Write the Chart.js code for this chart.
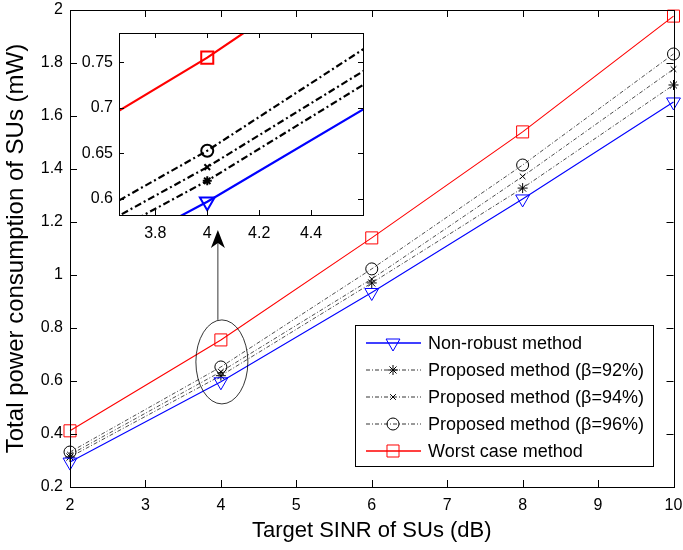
<!DOCTYPE html>
<html>
<head>
<meta charset="utf-8">
<script src="https://cdn.jsdelivr.net/npm/chart.js@4.4.1/dist/chart.umd.min.js"></script>
<style>
  body { margin: 0; background: #fff; }
  #wrap { position: relative; width: 683px; height: 550px; }
  #wrap canvas { position: absolute; left: 0; top: 0; }
</style>
</head>
<body>
<div id="wrap">
  <canvas id="mainChart" width="683" height="550"></canvas>
  <canvas id="insetChart" width="683" height="550"></canvas>
</div>
<script>
// data
const sinr = [2, 4, 6, 8, 10];
const nonRobust = [0.294, 0.597, 0.934, 1.287, 1.653];
const prop92 = [0.313, 0.620, 0.970, 1.328, 1.717];
const prop94 = [0.322, 0.635, 0.985, 1.372, 1.777];
const prop96 = [0.332, 0.653, 1.023, 1.415, 1.834];
const worstCase = [0.412, 0.755, 1.140, 1.540, 1.977];

const seriesLabels = [
  "Non-robust method",
  "Proposed method (β=92%)",
  "Proposed method (β=94%)",
  "Proposed method (β=96%)",
  "Worst case method"
];

const xTicks = [2, 3, 4, 5, 6, 7, 8, 9, 10];
const yTicks = [0.2, 0.4, 0.6, 0.8, 1, 1.2, 1.4, 1.6, 1.8, 2];
const insetXTicks = [3.8, 4, 4.2, 4.4];
const insetYTicks = [0.6, 0.65, 0.7, 0.75];

const xTitle = "Target SINR of SUs (dB)";
const yTitle = "Total power consumption of SUs (mW)";

Chart.defaults.font.family = "'Liberation Sans', Arial, sans-serif";
Chart.defaults.color = "#000";

// look of each series (main chart / inset)
const looks = [
  { color: "#0000ff", style: "triangle", rot: 180, r: 8, ir: 8.5, dash: [] },
  { color: "#000000", style: "star", rot: 0, r: 5, ir: 4.5, dash: [4, 2, 1, 2] },
  { color: "#000000", style: "crossRot", rot: 0, r: 4, ir: 4, dash: [4, 2, 1, 2] },
  { color: "#000000", style: "circle", rot: 0, r: 6, ir: 6, dash: [4, 2, 1, 2] },
  { color: "#ff0000", style: "rect", rot: 0, r: 8.5, ir: 8.5, dash: [] }
];
const allSeries = [nonRobust, prop92, prop94, prop96, worstCase];

function points(vals) {
  return vals.map((v, i) => ({ x: sinr[i], y: v }));
}

function makeDatasets(inset) {
  return allSeries.map((vals, i) => {
    const lk = looks[i];
    const black = lk.color === "#000000";
    return {
      label: seriesLabels[i],
      data: points(vals),
      showLine: true,
      borderColor: lk.color,
      borderWidth: inset ? 2.2 : (black ? 0.7 : 1.1),
      borderDash: inset ? (black ? [7, 3, 2, 3] : []) : lk.dash,
      pointStyle: lk.style,
      pointRotation: lk.rot,
      pointRadius: inset ? lk.ir : lk.r,
      pointBorderWidth: inset ? 2 : 1,
      pointBorderColor: lk.color,
      pointBackgroundColor: "rgba(0,0,0,0)",
      clip: inset ? 0 : false
    };
  });
}

// box round the axes and inward ticks on all four sides
const framePlugin = {
  id: "frame",
  beforeDraw(chart, args, opts) {
    if (!opts.fill) return;
    const a = chart.chartArea;
    chart.ctx.save();
    chart.ctx.fillStyle = "#fff";
    chart.ctx.fillRect(a.left, a.top, a.right - a.left, a.bottom - a.top);
    chart.ctx.restore();
  },
  afterDraw(chart, args, opts) {
    const { ctx, chartArea: a } = chart;
    const x = chart.scales.x, y = chart.scales.y;
    const len = opts.len || 6;
    ctx.save();
    ctx.strokeStyle = "#000";
    ctx.lineWidth = opts.width || 1;
    ctx.beginPath();
    x.ticks.forEach(t => {
      const px = Math.round(x.getPixelForValue(t.value)) + 0.5;
      ctx.moveTo(px, a.bottom); ctx.lineTo(px, a.bottom - len);
      ctx.moveTo(px, a.top); ctx.lineTo(px, a.top + len);
    });
    y.ticks.forEach(t => {
      const py = Math.round(y.getPixelForValue(t.value)) + 0.5;
      ctx.moveTo(a.left, py); ctx.lineTo(a.left + len, py);
      ctx.moveTo(a.right, py); ctx.lineTo(a.right - len, py);
    });
    ctx.stroke();
    ctx.strokeRect(Math.round(a.left) + 0.5, Math.round(a.top) + 0.5,
      Math.round(a.right - a.left), Math.round(a.bottom - a.top));
    ctx.restore();
  }
};

// legend box inside the plot, bottom right
const legendPlugin = {
  id: "boxLegend",
  afterDraw(chart) {
    const ctx = chart.ctx;
    const bx = 355, by = 325, bw = 298, bh = 141;
    ctx.save();
    ctx.fillStyle = "#fff";
    ctx.fillRect(bx, by, bw, bh);
    ctx.strokeStyle = "#000";
    ctx.lineWidth = 1;
    ctx.strokeRect(bx + 0.5, by + 0.5, bw, bh);
    ctx.font = "18px 'Liberation Sans', Arial, sans-serif";
    ctx.textBaseline = "middle";
    chart.data.datasets.forEach((ds, i) => {
      const lk = looks[i];
      const ly = by + 18 + i * 27;
      ctx.strokeStyle = lk.color;
      ctx.lineWidth = lk.dash.length ? 0.8 : 1.5;
      ctx.setLineDash(lk.dash);
      ctx.beginPath();
      ctx.moveTo(366, ly); ctx.lineTo(421, ly);
      ctx.stroke();
      ctx.setLineDash([]);
      ctx.lineWidth = 1;
      ctx.fillStyle = "rgba(0,0,0,0)";
      Chart.helpers.drawPoint(ctx, {
        pointStyle: lk.style, rotation: lk.rot,
        radius: lk.r, borderWidth: 1
      }, 393, ly);
      ctx.fillStyle = "#000";
      ctx.fillText(ds.label, 428, ly + 1);
    });
    ctx.restore();
  }
};

// ellipse round the x=4 points and the arrow up to the inset
const calloutPlugin = {
  id: "callout",
  afterDatasetsDraw(chart) {
    const { ctx } = chart;
    const x = chart.scales.x, y = chart.scales.y;
    const cx = x.getPixelForValue(4) + 1;
    const cy = y.getPixelForValue(0.672);
    ctx.save();
    ctx.strokeStyle = "#000";
    ctx.lineWidth = 0.8;
    ctx.beginPath();
    ctx.ellipse(cx, cy, 26, 42, 0, 0, Math.PI * 2);
    ctx.stroke();
    const ax = cx - 4;
    const tip = y.getPixelForValue(1.17);
    ctx.beginPath();
    ctx.moveTo(ax, cy - 42);
    ctx.lineTo(ax, tip + 10);
    ctx.stroke();
    ctx.fillStyle = "#000";
    ctx.beginPath();
    ctx.moveTo(ax, tip);
    ctx.lineTo(ax - 7, tip + 18);
    ctx.lineTo(ax, tip + 13);
    ctx.lineTo(ax + 7, tip + 18);
    ctx.closePath();
    ctx.fill();
    ctx.restore();
  }
};

function fixTicks(list) {
  return scale => { scale.ticks = list.map(v => ({ value: v })); };
}

const mainChart = new Chart(document.getElementById("mainChart"), {
  type: "scatter",
  data: { datasets: makeDatasets(false) },
  options: {
    responsive: false,
    animation: false,
    devicePixelRatio: 1,
    events: [],
    layout: { padding: { left: 2, right: 7, top: 10, bottom: 6 } },
    plugins: {
      legend: { display: false },
      tooltip: { enabled: false },
      frame: { len: 7 }
    },
    scales: {
      x: {
        type: "linear", min: 2, max: 10,
        afterBuildTicks: fixTicks(xTicks),
        afterFit(s) { s.height = 57; s.paddingLeft = 0; s.paddingRight = 0; },
        grid: { display: false, drawTicks: false },
        border: { display: false },
        ticks: { font: { size: 16 }, padding: 9, maxRotation: 0, callback: v => String(v) },
        title: { display: true, text: xTitle, font: { size: 22 }, padding: 0 }
      },
      y: {
        type: "linear", min: 0.2, max: 2,
        afterBuildTicks: fixTicks(yTicks),
        afterFit(s) { s.width = 68; s.paddingTop = 0; s.paddingBottom = 0; },
        grid: { display: false, drawTicks: false },
        border: { display: false },
        ticks: { font: { size: 16 }, padding: 7, callback: v => String(+v.toFixed(2)) },
        title: { display: true, text: yTitle, font: { size: 24 }, padding: 0 }
      }
    }
  },
  plugins: [framePlugin, calloutPlugin, legendPlugin]
});

// zoomed view around SINR = 4 dB
const insetChart = new Chart(document.getElementById("insetChart"), {
  type: "scatter",
  data: { datasets: makeDatasets(true) },
  options: {
    responsive: false,
    animation: false,
    devicePixelRatio: 1,
    events: [],
    layout: { padding: { left: 0, right: 320, top: 33, bottom: 305 } },
    plugins: {
      legend: { display: false },
      tooltip: { enabled: false },
      frame: { fill: true, len: 5 }
    },
    scales: {
      x: {
        type: "linear", min: 3.66, max: 4.6,
        afterBuildTicks: fixTicks(insetXTicks),
        afterFit(s) { s.height = 30; s.paddingLeft = 0; s.paddingRight = 0; },
        grid: { display: false, drawTicks: false },
        border: { display: false },
        ticks: { font: { size: 16 }, padding: 9, maxRotation: 0, callback: v => String(+v.toFixed(2)) }
      },
      y: {
        type: "linear", min: 0.5825, max: 0.782,
        afterBuildTicks: fixTicks(insetYTicks),
        afterFit(s) { s.width = 119; s.paddingTop = 0; s.paddingBottom = 0; },
        grid: { display: false, drawTicks: false },
        border: { display: false },
        ticks: { font: { size: 16 }, padding: 6, callback: v => String(+v.toFixed(2)) }
      }
    }
  },
  plugins: [framePlugin]
});
</script>
</body>
</html>
